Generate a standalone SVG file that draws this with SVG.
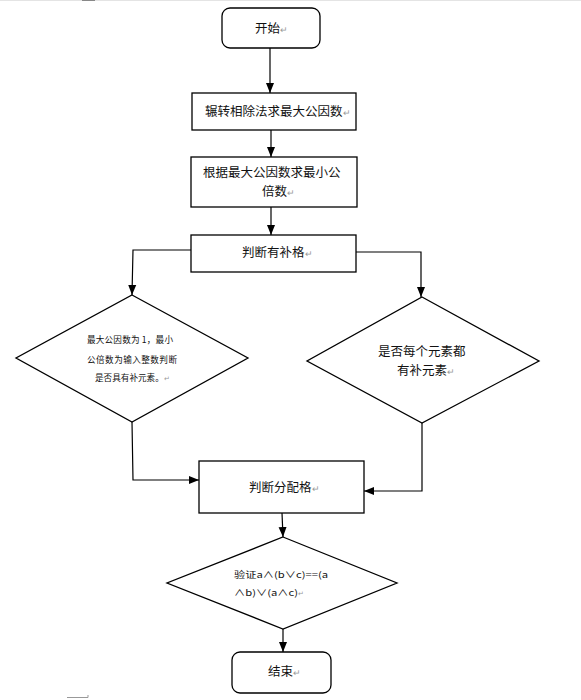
<svg xmlns="http://www.w3.org/2000/svg" width="581" height="700" viewBox="0 0 581 700">
<defs>
<marker id="ah" markerUnits="userSpaceOnUse" markerWidth="10" markerHeight="10" viewBox="0 0 10 10" refX="10" refY="5" orient="auto">
<path d="M0,1 L10,5 L0,9 z" fill="#000"/>
</marker>
</defs>
<style>
.n{fill:#fff;stroke:#000;stroke-width:1.3}
.c{fill:none;stroke:#000;stroke-width:1.2}
.t{font-family:"Noto Sans CJK SC","Noto Sans",sans-serif;fill:#111}
.m{font-size:12.5px}
.s{font-size:8.6px}
.r{fill:#999}
</style>
<rect width="581" height="700" fill="#fff"/>
<line x1="0" y1="0.5" x2="581" y2="0.5" stroke="#e4e4e4"/>
<line x1="82" y1="0.5" x2="95" y2="0.5" stroke="#888"/>
<path d="M67,697.5 H88 V695" fill="none" stroke="#999"/>
<g id="start"><rect class="n" x="222" y="8" width="98" height="40" rx="8"/><text class="t m" x="255" y="32.5">开始<tspan class="r" font-size="9">↵</tspan></text></g>
<g id="gcd"><rect class="n" x="192" y="93" width="164" height="37"/><text class="t m" x="205" y="115.5">辗转相除法求最大公因数<tspan class="r" font-size="9">↵</tspan></text></g>
<g id="lcm"><rect class="n" x="191" y="157" width="166" height="50"/><text class="t m" x="203" y="177">根据最大公因数求最小公</text><text class="t m" x="262" y="196">倍数<tspan class="r" font-size="9">↵</tspan></text></g>
<g id="complement"><rect class="n" x="191" y="235" width="165" height="37"/><text class="t m" x="242" y="256.5">判断有补格<tspan class="r" font-size="9">↵</tspan></text></g>
<g id="leftcheck"><polygon class="n" points="132,295 248,358 132,422 16,358"/><text class="t s" x="87" y="343" textLength="86">最大公因数为 1，最小</text><text class="t s" x="87" y="363" textLength="90">公倍数为输入整数判断</text><text class="t s" x="95" y="381">是否具有补元素。<tspan class="r" font-size="7">↵</tspan></text></g>
<g id="rightcheck"><polygon class="n" points="422,297 539,361 422,423 307,361"/><text class="t m" x="378" y="355.5">是否每个元素都</text><text class="t m" x="397" y="374.5">有补元素<tspan class="r" font-size="9">↵</tspan></text></g>
<g id="distributive"><rect class="n" x="199" y="461" width="165" height="52"/><text class="t m" x="249" y="491.5">判断分配格<tspan class="r" font-size="9">↵</tspan></text></g>
<g id="verify"><polygon class="n" points="283,537 397,583 283,629 167,583"/><text class="t s" x="234" y="578" textLength="94" lengthAdjust="spacingAndGlyphs">验证a∧(b∨c)==(a</text><text class="t s" x="234" y="596"><tspan textLength="64" lengthAdjust="spacingAndGlyphs">∧b)∨(a∧c)</tspan><tspan class="r" font-size="7">↵</tspan></text></g>
<g id="end"><rect class="n" x="232" y="652" width="99" height="41" rx="8"/><text class="t m" x="268" y="676">结束<tspan class="r" font-size="9">↵</tspan></text></g>
<g id="connectors">
<path class="c" d="M270,48 V93" marker-end="url(#ah)"/>
<path class="c" d="M271,130 V157" marker-end="url(#ah)"/>
<path class="c" d="M271,207 V235" marker-end="url(#ah)"/>
<path class="c" d="M191,250 H133 L132,295" marker-end="url(#ah)"/>
<path class="c" d="M356,252 H421 V297" marker-end="url(#ah)"/>
<path class="c" d="M132,422 L133,480 H199" marker-end="url(#ah)"/>
<path class="c" d="M422,423 V491 H364" marker-end="url(#ah)"/>
<path class="c" d="M282,513 L283,537" marker-end="url(#ah)"/>
<path class="c" d="M283,629 V652" marker-end="url(#ah)"/>
</g>
</svg>
